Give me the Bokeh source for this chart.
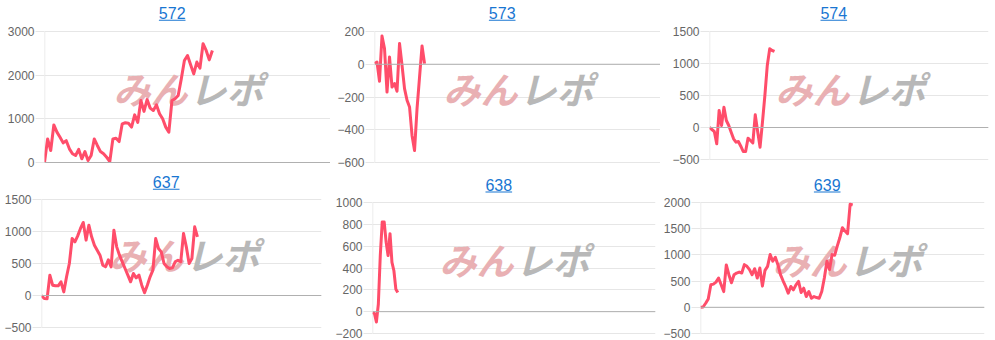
from bokeh.plotting import figure
from bokeh.models import Range1d, FixedTicker, Span, Label, BoxAnnotation
from bokeh.layouts import column, row
from bokeh.embed import file_html
from bokeh.resources import INLINE

# ---- data ----
titles = ["572", "573", "574", "637", "638", "639"]

s572 = [0, 540, 275, 860, 695, 580, 450, 500, 313, 200, 160, 300, 84, 250, 46,
        160, 540, 390, 250, 200, 120, 23, 540, 557, 480, 885, 910, 900, 810, 1090,
        920, 1420, 1170, 1440, 1245, 1190, 1320, 1115, 1000, 810, 695, 1420, 1460,
        1535, 1915, 2335, 2450, 2240, 2030, 2300, 2160, 2720, 2565, 2350, 2565]
s573 = [4, 14, -104, 173, 96, -170, 45, -139, -118, -165, 127, -6, -149, -220,
        -261, -435, -527, -271, -78, 112, 4]
s574 = [0, -31, -62, -255, 266, 31, 318, 109, 31, -73, -177, -229, -219, -292,
        -375, -375, -167, -203, -240, 198, -62, -307, 83, 500, 969, 1229, 1203, 1188]
s637 = [0, -47, -52, 318, 161, 151, 151, 214, 57, 292, 500, 890, 839, 932, 1047,
        1141, 865, 1099, 917, 786, 708, 630, 474, 448, 557, 448, 1021, 760, 630,
        526, 422, 318, 214, 344, 276, 318, 161, 42, 161, 292, 396, 890, 734, 682,
        500, 448, 422, 432, 526, 552, 526, 969, 760, 500, 578, 1073, 917]
s638 = [-9, -15, -95, 68, 514, 822, 822, 637, 514, 714, 452, 375, 206, 175]
s639 = [0, 6, 77, 160, 430, 442, 480, 558, 430, 300, 808, 622, 468, 622, 654, 673,
        654, 814, 782, 718, 622, 737, 558, 750, 404, 705, 782, 1006, 878, 955, 814,
        622, 506, 397, 269, 397, 333, 429, 494, 282, 365, 205, 301, 173, 205, 186,
        173, 301, 558, 878, 718, 1006, 994, 1167, 1327, 1519, 1455, 1404, 1968, 1955]

series = [s572, s573, s574, s637, s638, s639]

ticks572 = [0, 1000, 2000, 3000]
ticks573 = [-600, -400, -200, 0, 200]
ticks574 = [-500, 0, 500, 1000, 1500]
ticks637 = [-500, 0, 500, 1000, 1500]
ticks638 = [-200, 0, 200, 400, 600, 800, 1000]
ticks639 = [-500, 0, 500, 1000, 1500, 2000]
tick_sets = [ticks572, ticks573, ticks574, ticks637, ticks638, ticks639]

# ---- layout (pixels) ----
# width, plot left, plot right, plot top, plot bottom, title cx, title baseline,
# logo cx, logo cy, fraction of the x axis used by the data
layout = [
    (330, 44, 330, 31, 162, 171.7, 18.3, 188, 87, 0.587),
    (330, 44, 330, 31, 162, 171.7, 18.3, 188, 87, 0.175),
    (335, 49, 328, 31, 159, 173.3, 18.3, 190, 87, 0.233),
    (330, 41, 321, 29, 157, 165.7, 17.3, 184, 83, 0.557),
    (330, 42, 325, 32, 163, 168.3, 20.0, 184, 88.5, 0.0894),
    (335, 40, 324, 32, 163, 166.7, 20.0, 187, 88.5, 0.536),
]

H = 170
LINE = "#ff4d6a"
GRID = "#e6e6e6"
LINK = "#1976d2"
FONT = "Liberation Sans"

figs = []
for title, ys, ticks, lay in zip(titles, series, tick_sets, layout):
    W, fl, fr, ft, fb, tcx, tbase, lcx, lcy, frac = lay
    n = len(ys)
    xs = list(range(n))
    xmax = (n - 1) / frac
    # frame covers the full height; value range extended so ticks land at ft..fb
    per_px = (ticks[-1] - ticks[0]) / (fb - ft)
    y0 = ticks[0] - (H - fb) * per_px
    y1 = ticks[-1] + ft * per_px
    p = figure(width=W, height=H, output_backend="svg", toolbar_location=None,
               x_range=Range1d(0, xmax), y_range=Range1d(y0, y1),
               x_axis_location=None, min_border_left=fl, min_border_right=W - fr,
               min_border_top=0, min_border_bottom=0)
    p.outline_line_color = None
    p.background_fill_color = "white"
    p.border_fill_color = "white"
    p.xgrid.visible = False
    p.ygrid.ticker = FixedTicker(ticks=ticks)
    p.ygrid.grid_line_color = GRID
    ax = p.yaxis[0]
    ax.ticker = FixedTicker(ticks=ticks)
    ax.axis_line_color = None
    ax.major_tick_line_color = GRID
    ax.major_tick_out = 9
    ax.major_tick_in = 0
    ax.minor_tick_line_color = None
    ax.major_label_standoff = 1
    ax.major_label_text_font = FONT
    ax.major_label_text_font_size = "12px"
    ax.major_label_text_color = "#666666"

    # vertical axis line only between the lowest and highest tick
    p.segment(x0=[0], y0=[ticks[0]], x1=[0], y1=[ticks[-1]], line_color=GRID, line_width=1.5)
    p.add_layout(Span(location=0, dimension="width", line_color="#b0b0b0", line_width=1))

    # watermark logo
    p.add_layout(Label(x=lcx - fl - 1, y=H - lcy, x_units="screen", y_units="screen",
                       text="みん", text_font="Noto Sans CJK JP", text_font_style="bold italic",
                       text_font_size="37px", text_color="#e9b0b3", text_align="right",
                       text_baseline="middle", level="underlay"))
    p.add_layout(Label(x=lcx - fl + 1, y=H - lcy, x_units="screen", y_units="screen",
                       text="レポ", text_font="Noto Sans CJK JP", text_font_style="bold italic",
                       text_font_size="37px", text_color="#b8b8b8", text_align="left",
                       text_baseline="middle", level="underlay"))

    p.line(xs, ys, line_color=LINE, line_width=3, line_join="round")

    # linked title with underline
    p.add_layout(Label(x=tcx - fl, y=H - tbase + 6, x_units="screen", y_units="screen",
                       text=title, text_font=FONT, text_font_size="16px",
                       text_color=LINK, text_align="center", text_baseline="alphabetic"))
    hw = 13.3
    p.add_layout(BoxAnnotation(left=tcx - fl - hw, right=tcx - fl + hw,
                               bottom=H - tbase - 2.0, top=H - tbase - 1.0,
                               left_units="screen", right_units="screen",
                               top_units="screen", bottom_units="screen",
                               fill_color=LINK, fill_alpha=1.0, line_color=None))
    figs.append(p)

layout_obj = column(row(*figs[:3]), row(*figs[3:]))
open("out.html", "w").write(file_html(layout_obj, INLINE))
